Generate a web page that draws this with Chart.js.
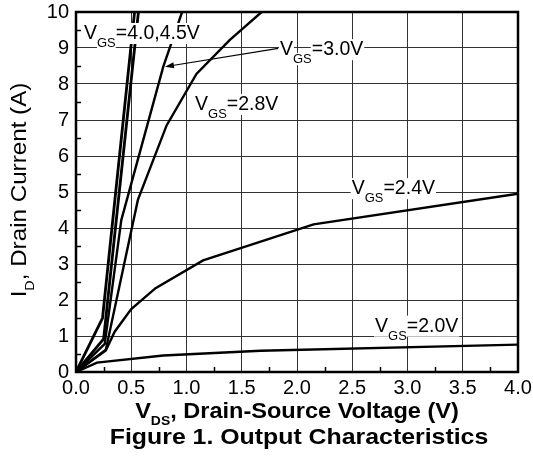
<!DOCTYPE html>
<html>
<head>
<meta charset="utf-8">
<script src="https://cdn.jsdelivr.net/npm/chart.js@4.4.1/dist/chart.umd.min.js"></script>
<style>
  html, body { margin: 0; padding: 0; background: #fff; }
  #wrap { width: 533px; height: 463px; }
</style>
</head>
<body>
<div id="wrap"><canvas id="c" width="533" height="463"></canvas></div>
<script>
// ---------- data (V_DS in volts, I_D in amps) ----------
const xTickValues = [0, 0.5, 1.0, 1.5, 2.0, 2.5, 3.0, 3.5, 4.0];
const yTickValues = [0, 1, 2, 3, 4, 5, 6, 7, 8, 9, 10];
const xMinorTicks = [0.25, 0.75, 1.25, 1.75, 2.25, 2.75, 3.25, 3.75];
const yMinorTicks = [0.5, 1.5, 2.5, 3.5, 4.5, 5.5, 6.5, 7.5, 8.5, 9.5];

const vgs45V = [0, 0.24, 0.53];
const vgs45I = [0, 1.50, 10.0];
const vgs40V = [0, 0.25, 0.565];
const vgs40I = [0, 0.92, 10.0];
const vgs30V = [0, 0.26, 0.41, 0.79, 0.96];
const vgs30I = [0, 0.78, 4.22, 8.48, 10.0];
const vgs28V = [0, 0.27, 0.56, 0.82, 1.09, 1.39, 1.68];
const vgs28I = [0, 0.62, 4.78, 6.85, 8.28, 9.22, 10.0];
const vgs24V = [0, 0.27, 0.35, 0.50, 0.72, 1.15, 2.15, 4.0];
const vgs24I = [0, 0.60, 1.12, 1.75, 2.33, 3.10, 4.10, 4.95];
const vgs20V = [0, 0.19, 0.79, 1.67, 4.0];
const vgs20I = [0, 0.26, 0.46, 0.59, 0.76];

// curve labels: text after "V_GS", anchored at (V_DS, I_D) of the label's left/baseline
const labelText = ['=4.0,4.5V', '=3.0V', '=2.8V', '=2.4V', '=2.0V'];
const labelV = [0.072, 1.846, 1.077, 2.495, 2.706];
const labelI = [9.25, 8.80, 7.28, 4.94, 1.12];
// arrow from the 3.0V label to its curve
const arrowFrom = [1.83, 8.99];
const arrowTo = [0.805, 8.48];

const FONT = '"Liberation Sans", Arial, Helvetica, sans-serif';

function pts(xs, ys) { return xs.map((x, i) => ({ x: x, y: ys[i] })); }
function ds(label, xs, ys, w) {
  return { label: label, data: pts(xs, ys), showLine: true, borderColor: '#000',
           backgroundColor: '#000', borderWidth: w, pointRadius: 0, tension: 0,
           fill: false, borderJoinStyle: 'miter' };
}

function richWidth(ctx, parts, size, subSize, bold) {
  let w = 0;
  for (const p of parts) {
    ctx.font = (bold ? 'bold ' : '') + (p.sub ? subSize : size) + 'px ' + FONT;
    w += ctx.measureText(p.t).width;
  }
  return w;
}
// draws parts starting at (x, y) baseline, optionally stretched horizontally
function drawRich(ctx, parts, x, y, size, subSize, bold, subDy, bg, sx) {
  ctx.save();
  ctx.translate(x, y);
  ctx.scale(sx || 1, 1);
  let cx = 0;
  for (const p of parts) {
    const s = p.sub ? subSize : size;
    ctx.font = (bold ? 'bold ' : '') + s + 'px ' + FONT;
    const w = ctx.measureText(p.t).width;
    const by = p.sub ? subDy : 0;
    if (bg) {
      ctx.fillStyle = '#fff';
      const cap = s * 0.72;
      if (p.sub) ctx.fillRect(cx, by - cap - 1, w, cap + 3);
      else ctx.fillRect(cx - 1, by - cap - 2, w + 2, cap + 7);
    }
    ctx.fillStyle = '#000';
    ctx.fillText(p.t, cx, by);
    cx += w;
  }
  ctx.restore();
}

const decor = {
  id: 'decor',
  afterDatasetsDraw(chart) {
    const ctx = chart.ctx, a = chart.chartArea;
    const xs = chart.scales.x, ys = chart.scales.y;
    ctx.save();
    // minor ticks (inside)
    ctx.strokeStyle = '#000';
    ctx.lineWidth = 1.5;
    ctx.beginPath();
    for (const v of xMinorTicks) {
      const px = Math.round(xs.getPixelForValue(v)) + 0.5;
      ctx.moveTo(px, a.bottom); ctx.lineTo(px, a.bottom - 5);
    }
    for (const v of yMinorTicks) {
      const py = Math.round(ys.getPixelForValue(v)) + 0.5;
      ctx.moveTo(a.left, py); ctx.lineTo(a.left + 5, py);
    }
    ctx.stroke();
    // frame
    ctx.lineWidth = 2.5;
    ctx.strokeRect(a.left, a.top, a.right - a.left, a.bottom - a.top);

    // arrow
    const x1 = xs.getPixelForValue(arrowFrom[0]), y1 = ys.getPixelForValue(arrowFrom[1]);
    const x2 = xs.getPixelForValue(arrowTo[0]), y2 = ys.getPixelForValue(arrowTo[1]);
    const ang = Math.atan2(y2 - y1, x2 - x1);
    ctx.lineWidth = 1.2;
    ctx.beginPath(); ctx.moveTo(x1, y1); ctx.lineTo(x2 - 6 * Math.cos(ang), y2 - 6 * Math.sin(ang)); ctx.stroke();
    ctx.beginPath();
    ctx.moveTo(x2, y2);
    ctx.lineTo(x2 - 9 * Math.cos(ang) + 3 * Math.sin(ang), y2 - 9 * Math.sin(ang) - 3 * Math.cos(ang));
    ctx.lineTo(x2 - 9 * Math.cos(ang) - 3 * Math.sin(ang), y2 - 9 * Math.sin(ang) + 3 * Math.cos(ang));
    ctx.closePath(); ctx.fillStyle = '#000'; ctx.fill();

    // curve labels
    ctx.textBaseline = 'alphabetic';
    ctx.textAlign = 'left';
    for (let i = 0; i < labelText.length; i++) {
      const px = xs.getPixelForValue(labelV[i]);
      const py = ys.getPixelForValue(labelI[i]);
      drawRich(ctx, [{ t: 'V' }, { t: 'GS', sub: true }, { t: labelText[i] }], px, py, 19.5, 13, false, 8, true, 1);
    }

    // y-axis title (rotated)
    const yParts = [{ t: 'I' }, { t: 'D', sub: true }, { t: ', Drain Current (A)' }];
    const ySx = 1.1;
    const yw = richWidth(ctx, yParts, 22, 13, false) * ySx;
    ctx.save();
    ctx.translate(26, (a.top + a.bottom) / 2 - 2 + yw / 2);
    ctx.rotate(-Math.PI / 2);
    drawRich(ctx, yParts, 0, 0, 22, 13, false, 8, false, ySx);
    ctx.restore();

    // x-axis title
    const xParts = [{ t: 'V' }, { t: 'DS', sub: true }, { t: ', Drain-Source Voltage (V)' }];
    const xSx = 1.07;
    const xw = richWidth(ctx, xParts, 22, 13, true) * xSx;
    drawRich(ctx, xParts, (a.left + a.right) / 2 - xw / 2, 418, 22, 13, true, 7, false, xSx);

    // caption
    const cParts = [{ t: 'Figure 1. Output Characteristics' }];
    const cSx = 1.13;
    const cw = richWidth(ctx, cParts, 22, 13, true) * cSx;
    drawRich(ctx, cParts, (a.left + a.right) / 2 + 2 - cw / 2, 444, 22, 13, true, 0, false, cSx);
    ctx.restore();
  }
};

const chart = new Chart(document.getElementById('c').getContext('2d'), {
  type: 'scatter',
  data: {
    datasets: [
      ds('VGS=4.5V', vgs45V, vgs45I, 2.8),
      ds('VGS=4.0V', vgs40V, vgs40I, 2.8),
      ds('VGS=3.0V', vgs30V, vgs30I, 2.4),
      ds('VGS=2.8V', vgs28V, vgs28I, 2.4),
      ds('VGS=2.4V', vgs24V, vgs24I, 2.4),
      ds('VGS=2.0V', vgs20V, vgs20I, 2.4)
    ]
  },
  options: {
    responsive: false,
    animation: false,
    devicePixelRatio: 1,
    layout: { padding: { top: 12, right: 15, left: 0, bottom: 0 } },
    plugins: { legend: { display: false }, tooltip: { enabled: false }, title: { display: false } },
    scales: {
      x: {
        type: 'linear', min: 0, max: 4,
        afterBuildTicks(s) { s.ticks = xTickValues.map(v => ({ value: v })); },
        ticks: { callback: v => v.toFixed(1), color: '#000', font: { family: FONT, size: 20, lineHeight: 1 },
                 padding: 6, maxRotation: 0, autoSkip: false },
        grid: { color: '#333', lineWidth: 1, drawTicks: false },
        border: { display: false },
        afterFit(s) { s.height = 91; s.paddingLeft = 0; s.paddingRight = 0; s.paddingTop = 0; s.paddingBottom = 0; }
      },
      y: {
        type: 'linear', min: 0, max: 10,
        afterBuildTicks(s) { s.ticks = yTickValues.map(v => ({ value: v })); },
        ticks: { callback: v => String(v), color: '#000', font: { family: FONT, size: 20, lineHeight: 1 },
                 padding: 7, autoSkip: false },
        grid: { color: '#333', lineWidth: 1, drawTicks: false },
        border: { display: false },
        afterFit(s) { s.width = 76; s.paddingLeft = 0; s.paddingRight = 0; s.paddingTop = 0; s.paddingBottom = 0; }
      }
    }
  },
  plugins: [decor]
});
</script>
</body>
</html>
